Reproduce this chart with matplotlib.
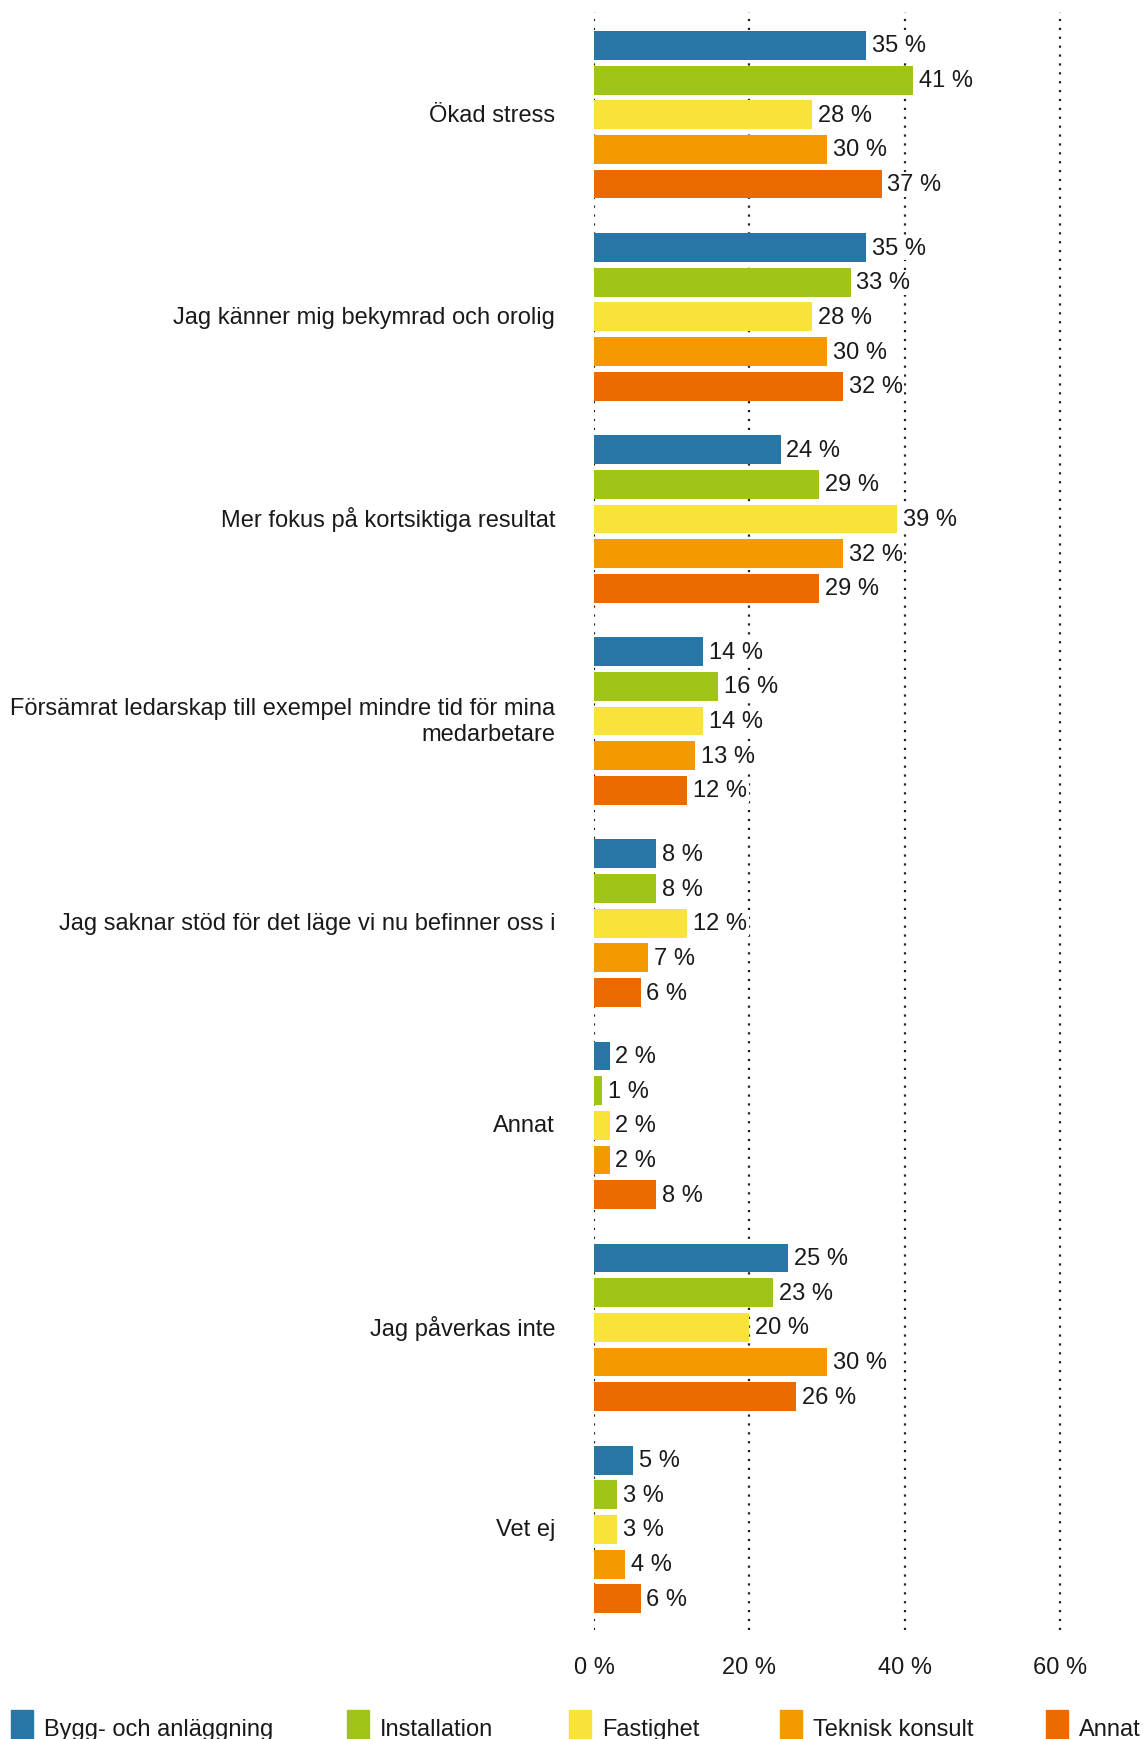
import matplotlib.pyplot as plt
from matplotlib.patches import Rectangle

plt.rcParams['font.family'] = ['Liberation Sans', 'DejaVu Sans']

categories = [
    'Ökad stress',
    'Jag känner mig bekymrad och orolig',
    'Mer fokus på kortsiktiga resultat',
    'Försämrat ledarskap till exempel mindre tid för mina\nmedarbetare',
    'Jag saknar stöd för det läge vi nu befinner oss i',
    'Annat',
    'Jag påverkas inte',
    'Vet ej',
]
series = ['Bygg- och anläggning', 'Installation', 'Fastighet', 'Teknisk konsult', 'Annat']
colors = ['#2876a6', '#a0c417', '#f9e23a', '#f49a00', '#ec6b00']

bygg = [35, 35, 24, 14, 8, 2, 25, 5]
installation = [41, 33, 29, 16, 8, 1, 23, 3]
fastighet = [28, 28, 39, 14, 12, 2, 20, 3]
teknisk = [30, 30, 32, 13, 7, 2, 30, 4]
annat = [37, 32, 29, 12, 6, 8, 26, 6]
values = [bygg, installation, fastighet, teknisk, annat]

xticks = [0, 20, 40, 60]

W, H = 1146, 1740
fig = plt.figure(figsize=(W / 100, H / 100), dpi=100)
ax = fig.add_axes([594 / W, 1 - 1631 / H, 1 - 594 / W, (1631 - 13) / H])

gap = 0.83
pitch = len(series) + gap
fs = 17

for s, (name, vals, col) in enumerate(zip(series, values, colors)):
    ys = [g * pitch + s for g in range(len(categories))]
    ax.barh(ys, vals, height=0.83, color=col, zorder=2)
    for y, v in zip(ys, vals):
        ax.text(v + 0.75, y, f'{v} %', va='center', ha='left', fontsize=fs,
                color='#1a1a1a', zorder=3,
                bbox=dict(facecolor='white', edgecolor='none', pad=1))

for x in xticks:
    ax.axvline(x, color='#222222', linestyle=(0, (1, 3)), linewidth=1.6, zorder=1)

# category labels to the left of the axis
for g, cat in enumerate(categories):
    ax.text(-39 / 7.78, g * pitch + 2, cat, ha='right', va='center', fontsize=fs,
            color='#1a1a1a', linespacing=1.2)

ax.set_xlim(0, 71)
last = (len(categories) - 1) * pitch + 4
ax.set_ylim(last + 0.9, -0.965)
ax.set_xticks(xticks)
ax.set_xticklabels([f'{x} %' for x in xticks], fontsize=fs, color='#1a1a1a')
ax.tick_params(axis='x', length=0, pad=19)
ax.set_yticks([])
for sp in ax.spines.values():
    sp.set_visible(False)

# legend along the bottom edge
leg_x = [11, 347, 569, 780, 1046]
for x, name, col in zip(leg_x, series, colors):
    fig.add_artist(Rectangle((x / W, 1 - 1740 / H), 22 / W, 29 / H,
                             transform=fig.transFigure, color=col))
    fig.text((x + 33) / W, 1 - 1730 / H, name, fontsize=fs, va='center',
             ha='left', color='#1a1a1a')

fig.savefig('out.png', dpi=100)
